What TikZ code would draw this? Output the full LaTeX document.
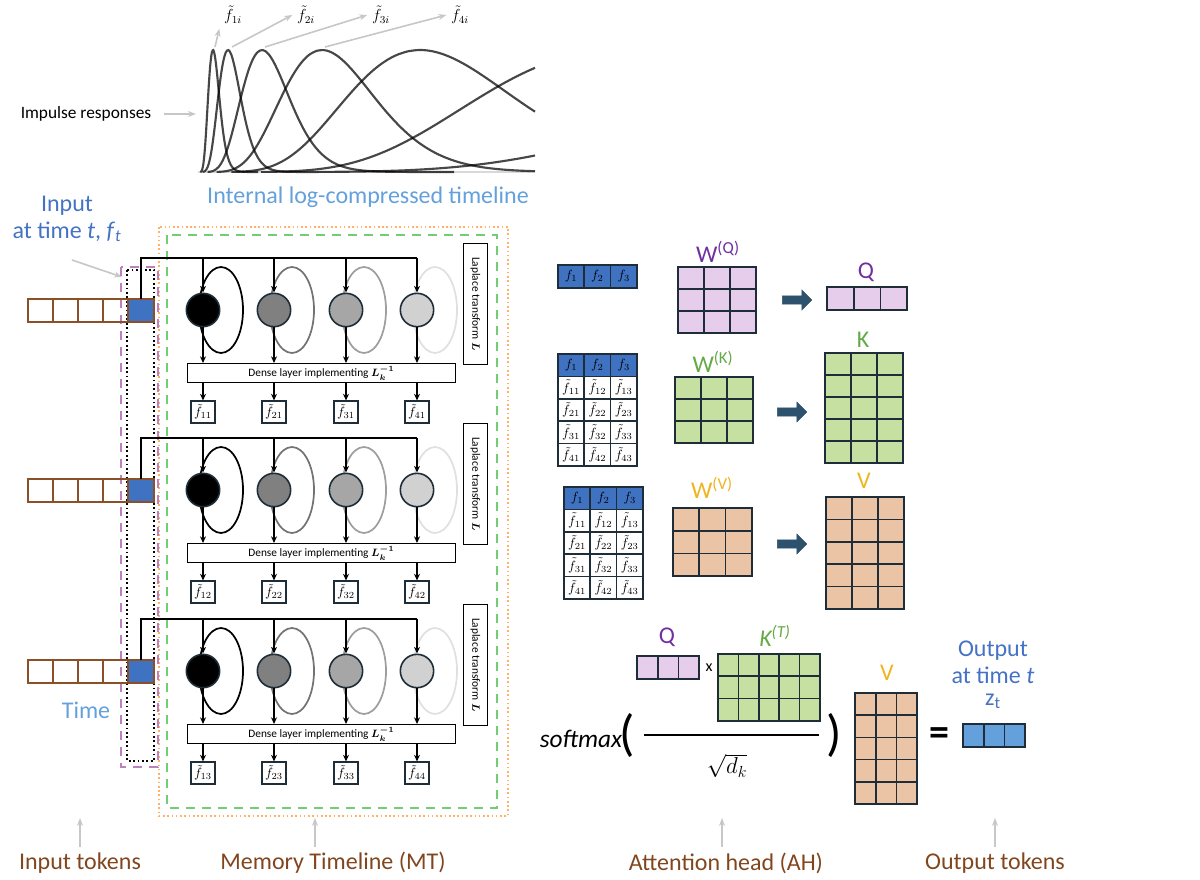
\documentclass[tikz,border=0pt]{standalone}
\usepackage{fontspec}
\usepackage{amsmath,bm}
\setmainfont{Carlito}
\usetikzlibrary{arrows.meta,shapes.arrows}
\definecolor{tokbrown}{RGB}{140,80,40}
\definecolor{inblue}{RGB}{63,114,192}
\definecolor{txtblue}{RGB}{68,114,196}
\definecolor{lightblue}{RGB}{100,160,220}
\definecolor{qpink}{RGB}{230,205,235}
\definecolor{kgreen}{RGB}{197,224,160}
\definecolor{vpeach}{RGB}{235,195,165}
\definecolor{qpurple}{RGB}{112,48,160}
\definecolor{kgreentxt}{RGB}{100,170,70}
\definecolor{vyellow}{RGB}{240,180,30}
\definecolor{gridline}{RGB}{30,45,55}
\definecolor{arrblue}{RGB}{44,82,110}
\definecolor{labbrown}{RGB}{130,70,30}
\newcommand\mgrid[7]{% x0,y0,cols,rows,cw,rh,fill
  \foreach \ci in {1,...,#3}{\foreach \ri in {1,...,#4}{
    \draw[cell,fill=#7] ({#1+(\ci-1)*#5},{#2+(\ri-1)*#6}) rectangle ++(#5,#6);}}}
\newcommand\ftable[2]{% x0,y0 : f table with 5 rows
  \foreach \ci in {1,2,3}{
    \draw[cell,fill=inblue] ({#1+(\ci-1)*26.3},#2) rectangle ++(26.3,22.4);
    \node[font=\normalsize,inner sep=0pt] at ({#1+(\ci-0.5)*26.3},{#2+11.2}) {$f_{\ci}$};
    \foreach \ri in {1,...,4}{
      \draw[cell,fill=white] ({#1+(\ci-1)*26.3},{#2+\ri*22.4}) rectangle ++(26.3,22.4);
      \node[font=\normalsize,inner sep=0pt] at ({#1+(\ci-0.5)*26.3},{#2+(\ri+0.5)*22.4}) {$\tilde f_{\ri\ci}$};}}}
\begin{document}
\begin{tikzpicture}[x=0.75pt,y=-0.75pt,
  cell/.style={draw=gridline,line width=1.3pt},
  tok/.style={draw=tokbrown,line width=1.4pt},
  garrow/.style={draw=black!22,line width=1.2pt,-{Stealth[length=6pt]}},
  flow/.style={line width=1.2pt,-{Stealth[length=5pt,width=4.5pt]}},
  curve/.style={black,opacity=0.72,line width=1.6pt},
  big/.style={font=\fontsize{18}{20}\selectfont},
  blk/.style={single arrow,fill=arrblue,draw=arrblue,minimum height=22pt,single arrow head extend=3pt,inner sep=2pt,minimum width=15pt}]
\useasboundingbox (0,0) rectangle (1200,880);
% ---- impulse responses
\draw[black!15,line width=1.5pt] (198,172) -- (535,172);
\foreach \p in {15,30,64,124,222,420,800}{
  \pgfmathsetmacro\tmax{min(4*\p,337)}
  \draw[curve] plot[domain={0.15*\p}:\tmax,samples=90,smooth]
    ({198+\x},{172-122*exp(7*(ln(\x/\p)+1-\x/\p))});}
\node[font=\large] (f1i) at (233,15) {$\tilde f_{1i}$};
\node[font=\large] (f2i) at (306,15) {$\tilde f_{2i}$};
\node[font=\large] (f3i) at (381,15) {$\tilde f_{3i}$};
\node[font=\large] (f4i) at (460,15) {$\tilde f_{4i}$};
\coordinate (p1) at (215,47); \coordinate (p2) at (232,47);
\coordinate (p3) at (265,47); \coordinate (p4) at (325,47);
\draw[garrow] (p1) -- (f1i.south west);
\draw[garrow] (p2) -- (f2i.west);
\draw[garrow] (p3) -- (f3i.west);
\draw[garrow] (p4) -- (f4i.west);
\node[font=\fontsize{13}{15}\selectfont] (imp) at (86,114) {Impulse responses};
\coordinate (impend) at (196,114);
\draw[garrow] (164,114) -- (impend);
\node[big,text=lightblue] (tl) at (368,197) {Internal log-compressed timeline};
\node[big,text=txtblue,align=center] (inp) at (67,219) {Input\\at time \textit{t}, \textit{f}\textsubscript{\textit{t}}};
\coordinate (inpend) at (122,277);
\draw[garrow] (72,260) -- (inpend);
% ---- frames
\draw[orange!60,line width=1.2pt,dotted] (159,227) rectangle (508,816);
\draw[green!65!black!55,line width=1.4pt,dash pattern=on 7pt off 5pt] (167,235) rectangle (497,808);
\draw[violet!50,line width=1.4pt,dash pattern=on 7pt off 5pt] (121,267) rectangle (158,767);
\draw[black,line width=1.3pt,dotted] (127,270) rectangle (154,761);
\node[big,text=lightblue] (time) at (86,710) {Time};
% ---- memory timeline rows
\foreach \r/\T in {1/258,2/438,3/619}{
  \foreach \i in {0,...,3} \draw[tok] ({28+25*\i},{\T+41}) rectangle ++(25,23);
  \draw[tok,fill=inblue] (128,{\T+41}) rectangle (154,{\T+64});
  \draw[line width=1.2pt] (141,{\T+41}) -- (141,\T) -- (417,\T);
  \node[draw=black,line width=1.1pt,minimum width=201pt,minimum height=14pt,inner sep=0pt,
    font=\fontsize{8.5}{9}\selectfont] (d\r) at (321.5,{\T+115}) {Dense layer implementing $\bm{L_k^{-1}}$};
  \node[draw=black,line width=1.1pt,minimum width=91pt,minimum height=18pt,inner sep=0pt,rotate=-90,
    font=\fontsize{8.5}{9}\selectfont] (lap\r) at (475.5,{\T+46}) {Laplace transform $\bm{L}$};
  \foreach \k/\x/\sh/\lc in {1/203/black/black,2/274/black!50/black!55,3/346/black!35/black!38,4/417/black!18/black!12}{
    \draw[\lc,line width=1.3pt] ({\x+18},{\T+52}) ellipse (22 and 43);
    \node[circle,draw=gridline,line width=1.2pt,fill=\sh,minimum size=25pt,inner sep=0pt] (c\r\k) at (\x,{\T+52}) {};
    \draw[flow] (\x,\T) -- (c\r\k.north);
    \draw[flow] (c\r\k.south) -- (\x,{\T+105});
    \pgfmathtruncatemacro\sub{(\r==3 && \k==4) ? 4 : \r}
    \node[draw=gridline,line width=1.3pt,minimum width=18pt,minimum height=16pt,inner sep=0pt,font=\normalsize]
      (o\r\k) at (\x,{\T+154}) {$\tilde f_{\k\sub}$};
    \draw[flow] (\x,{\T+125}) -- (o\r\k.north);}
}
% ---- bottom labels left
\node[big,text=labbrown] (lin) at (80,863) {Input tokens};
\node[big,text=labbrown] (lmt) at (333,863) {Memory Timeline (MT)};
\coordinate (ain) at (80,818); \coordinate (amt) at (315,818);
\draw[garrow] (80,847) -- (ain);
\draw[garrow] (315,847) -- (amt);
% ---- attention head: Q
\foreach \ci in {1,2,3}{
  \draw[cell,fill=inblue] ({558+(\ci-1)*26.3},265) rectangle ++(26.3,23);
  \node[font=\normalsize,inner sep=0pt] at ({558+(\ci-0.5)*26.3},276.5) {$f_{\ci}$};}
\node[big,text=qpurple] (wq) at (718,252) {W\textsuperscript{(Q)}};
\mgrid{678}{267}{3}{3}{26}{22}{qpink}
\node[blk] (aq) at (795,300) {};
\node[big,text=qpurple] (ql) at (866,272) {Q};
\mgrid{827}{287}{3}{1}{26.7}{23}{qpink}
% K
\ftable{558}{354}
\node[big,text=kgreentxt] (wk) at (713,362) {W\textsuperscript{(K)}};
\mgrid{675}{377}{3}{3}{26}{22}{kgreen}
\node[blk] (ak) at (790,412) {};
\node[big,text=kgreentxt] (kl) at (863,340) {K};
\mgrid{825}{353}{3}{5}{26}{22}{kgreen}
% V
\ftable{564}{487}
\node[big,text=vyellow] (wv) at (712,488) {W\textsuperscript{(V)}};
\mgrid{673}{508}{3}{3}{26.3}{22.7}{vpeach}
\node[blk] (av) at (790,544) {};
\node[big,text=vyellow] (vl) at (864,481) {V};
\mgrid{826}{497}{3}{5}{26}{22.4}{vpeach}
% ---- softmax formula
\node[big,text=qpurple] (q2) at (667,637) {Q};
\mgrid{637}{656}{3}{1}{20.7}{23}{qpink}
\node[font=\large] (times) at (709,668) {x};
\node[big,text=kgreentxt] (kt) at (775,636) {\textit{K\textsuperscript{(T)}}};
\mgrid{718}{654}{5}{3}{20.4}{22.3}{kgreen}
\node[font=\fontsize{19}{20}\selectfont\itshape] (sm) at (581,739) {softmax};
\node[font=\fontsize{38}{38}\selectfont] (lp) at (627,735) {(};
\node[font=\fontsize{38}{38}\selectfont] (rp) at (834,735) {)};
\draw[line width=1.4pt] (644,735) -- (819,735);
\node[font=\fontsize{18}{20}\selectfont] (dk) at (727,766) {$\sqrt{d_k}$};
\node[big,text=vyellow] (v2) at (887,673) {V};
\mgrid{855}{693}{3}{5}{20.7}{22.2}{vpeach}
\node[font=\fontsize{30}{30}\selectfont\bfseries] (eq) at (939,737) {=};
\node[big,text=txtblue,align=center] (out) at (993,675) {Output\\at time \textit{t}\\[-4pt]z\textsubscript{t}};
\mgrid{963}{724}{3}{1}{20.7}{23}{lightblue}
\node[big,text=labbrown] (lah) at (726,863) {Attention head (AH)};
\node[big,text=labbrown] (lot) at (995,863) {Output tokens};
\coordinate (aah) at (722,818); \coordinate (aot) at (995,818);
\draw[garrow] (722,847) -- (aah);
\draw[garrow] (995,847) -- (aot);
\end{tikzpicture}
\end{document}
